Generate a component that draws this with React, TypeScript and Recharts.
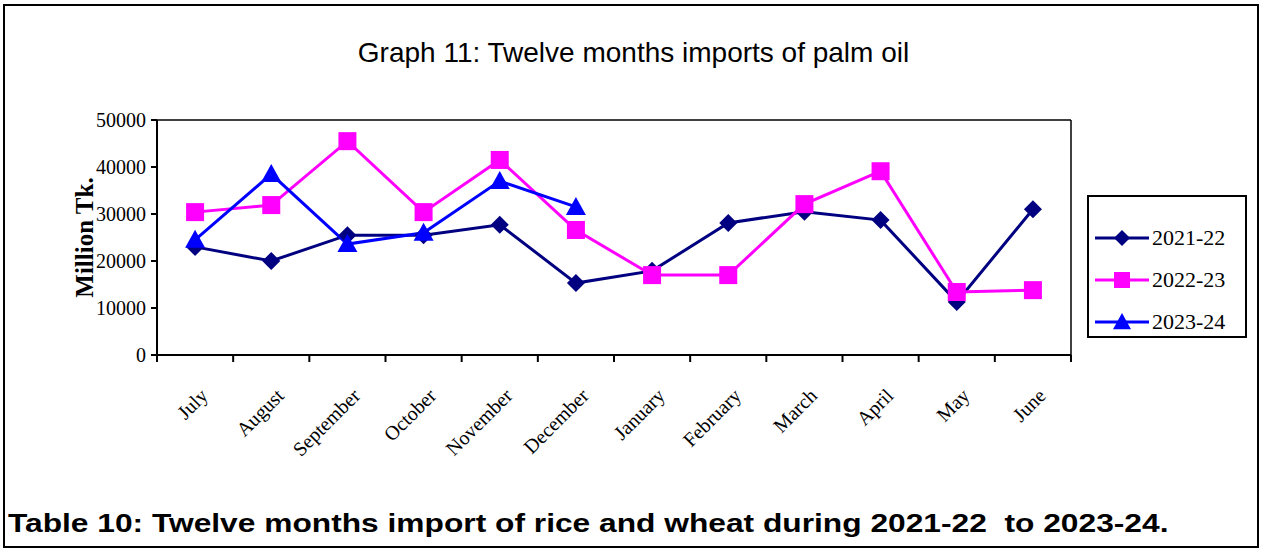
import { LineChart, Line, XAxis, YAxis, ReferenceLine } from 'recharts';

const months = ['July', 'August', 'September', 'October', 'November', 'December', 'January', 'February', 'March', 'April', 'May', 'June'];
const fy2122 = [23000, 20000, 25500, 25500, 27700, 15300, 17900, 28100, 30500, 28700, 11300, 31000];
const fy2223 = [30400, 31900, 45500, 30400, 41500, 26600, 17000, 17000, 32100, 39100, 13400, 13800];
const fy2324 = [24500, 38500, 23600, 26000, 37000, 31500];
const yTicks = [0, 10000, 20000, 30000, 40000, 50000];
// ticks at every half step: whole numbers are band edges (tick marks), halves are month labels
const xTicks = Array.from({ length: 25 }, (_, i) => i / 2);

const seriesMeta = [
  { key: 'fy2122', name: '2021-22', color: '#000080', shape: 'diamond' },
  { key: 'fy2223', name: '2022-23', color: '#FF00FF', shape: 'square' },
  { key: 'fy2324', name: '2023-24', color: '#0000FF', shape: 'triangle' },
];

const data = months.map((m, i) => ({
  month: m,
  pos: i + 0.5,
  fy2122: fy2122[i],
  fy2223: fy2223[i],
  fy2324: i < fy2324.length ? fy2324[i] : null,
}));

const serif = "'Liberation Serif', 'Times New Roman', serif";

const Marker = ({ cx, cy, shape, color, size = 9 }: any) => {
  if (cx == null || cy == null) return null;
  if (shape === 'diamond') {
    const s = size;
    return <polygon points={`${cx},${cy - s} ${cx + s},${cy} ${cx},${cy + s} ${cx - s},${cy}`} fill={color} />;
  }
  if (shape === 'square') {
    const s = size;
    return <rect x={cx - s} y={cy - s} width={s * 2} height={s * 2} fill={color} />;
  }
  const s = size + 1;
  return <polygon points={`${cx},${cy - s} ${cx + s},${cy + s * 0.8} ${cx - s},${cy + s * 0.8}`} fill={color} />;
};

const MonthTick = ({ x, y, payload }: any) => {
  const v = payload.value;
  if (Number.isInteger(v)) {
    return <line x1={x} y1={y} x2={x} y2={y + 7} stroke="#000" strokeWidth={2} />;
  }
  return (
    <g transform={`translate(${x + 14},${y + 42})`}>
      <text transform="rotate(-45)" textAnchor="end" fontFamily={serif} fontSize={20} fill="#000">
        {months[Math.floor(v)]}
      </text>
    </g>
  );
};

const LegendBox = () => (
  <div
    style={{
      position: 'absolute',
      left: 1087,
      top: 195,
      border: '2px solid #000',
      width: 160,
      height: 143,
      boxSizing: 'border-box',
      padding: '20px 0 0 4px',
      background: '#fff',
    }}
  >
    {seriesMeta.map((s) => (
      <div key={s.key} style={{ display: 'flex', alignItems: 'center', height: 42 }}>
        <svg width={58} height={24}>
          <line x1={2} y1={12} x2={56} y2={12} stroke={s.color} strokeWidth={3} />
          <Marker cx={29} cy={12} shape={s.shape} color={s.color} size={8} />
        </svg>
        <span style={{ fontFamily: serif, fontSize: 22, color: '#000', marginLeft: 1 }}>{s.name}</span>
      </div>
    ))}
  </div>
);

export default function App() {
  return (
    <div style={{ position: 'absolute', left: 0, top: 0, width: 1263, height: 551, background: '#fff' }}>
      <div
        style={{
          position: 'absolute',
          left: 3,
          top: 4,
          width: 1256,
          height: 544,
          border: '2px solid #000',
          boxSizing: 'border-box',
        }}
      />
      <div
        style={{
          position: 'absolute',
          left: 0,
          width: 1267,
          top: 37,
          textAlign: 'center',
          fontFamily: "'Liberation Sans', Arial, sans-serif",
          fontSize: 28,
          color: '#000',
        }}
      >
        Graph 11: Twelve months imports of palm oil
      </div>
      <div style={{ position: 'absolute', left: 0, top: 0 }}>
        <LineChart width={1263} height={551} data={data} margin={{ top: 120, right: 192, left: 97, bottom: 136 }}>
          <XAxis
            type="number"
            dataKey="pos"
            domain={[0, 12]}
            ticks={xTicks}
            interval={0}
            tickLine={false}
            tickSize={0}
            tickMargin={0}
            tick={<MonthTick />}
            height={60}
            stroke="#000"
            strokeWidth={2}
          />
          <YAxis
            domain={[0, 50000]}
            ticks={yTicks}
            width={60}
            tickSize={6}
            tickMargin={5}
            stroke="#000"
            strokeWidth={2}
            tick={{ fill: '#000', fontFamily: serif, fontSize: 20 }}
            label={{
              value: 'Million Tk.',
              angle: -90,
              position: 'left',
              offset: 13,
              style: { fontFamily: serif, fontWeight: 'bold', fontSize: 25, fill: '#000', textAnchor: 'middle' },
            }}
          />
          <ReferenceLine y={0} stroke="#000" strokeWidth={2} />
          <ReferenceLine y={50000} stroke="#000" strokeWidth={1.5} />
          <ReferenceLine x={12} stroke="#000" strokeWidth={1.5} />
          {seriesMeta.map((s) => (
            <Line
              key={s.key}
              dataKey={s.key}
              name={s.name}
              stroke={s.color}
              strokeWidth={3}
              isAnimationActive={false}
              dot={(p: any) => <Marker key={`${s.key}-${p.index}`} cx={p.cx} cy={p.cy} shape={s.shape} color={s.color} />}
              activeDot={false}
            />
          ))}
        </LineChart>
      </div>
      <LegendBox />
      <div
        style={{
          position: 'absolute',
          left: 8,
          top: 508,
          fontFamily: "'Liberation Sans', Arial, sans-serif",
          fontWeight: 'bold',
          fontSize: 26,
          color: '#000',
          whiteSpace: 'pre',
          transform: 'scaleX(1.22)',
          transformOrigin: 'left top',
        }}
      >
        {'Table 10: Twelve months import of rice and wheat during 2021-22  to 2023-24.'}
      </div>
    </div>
  );
}
